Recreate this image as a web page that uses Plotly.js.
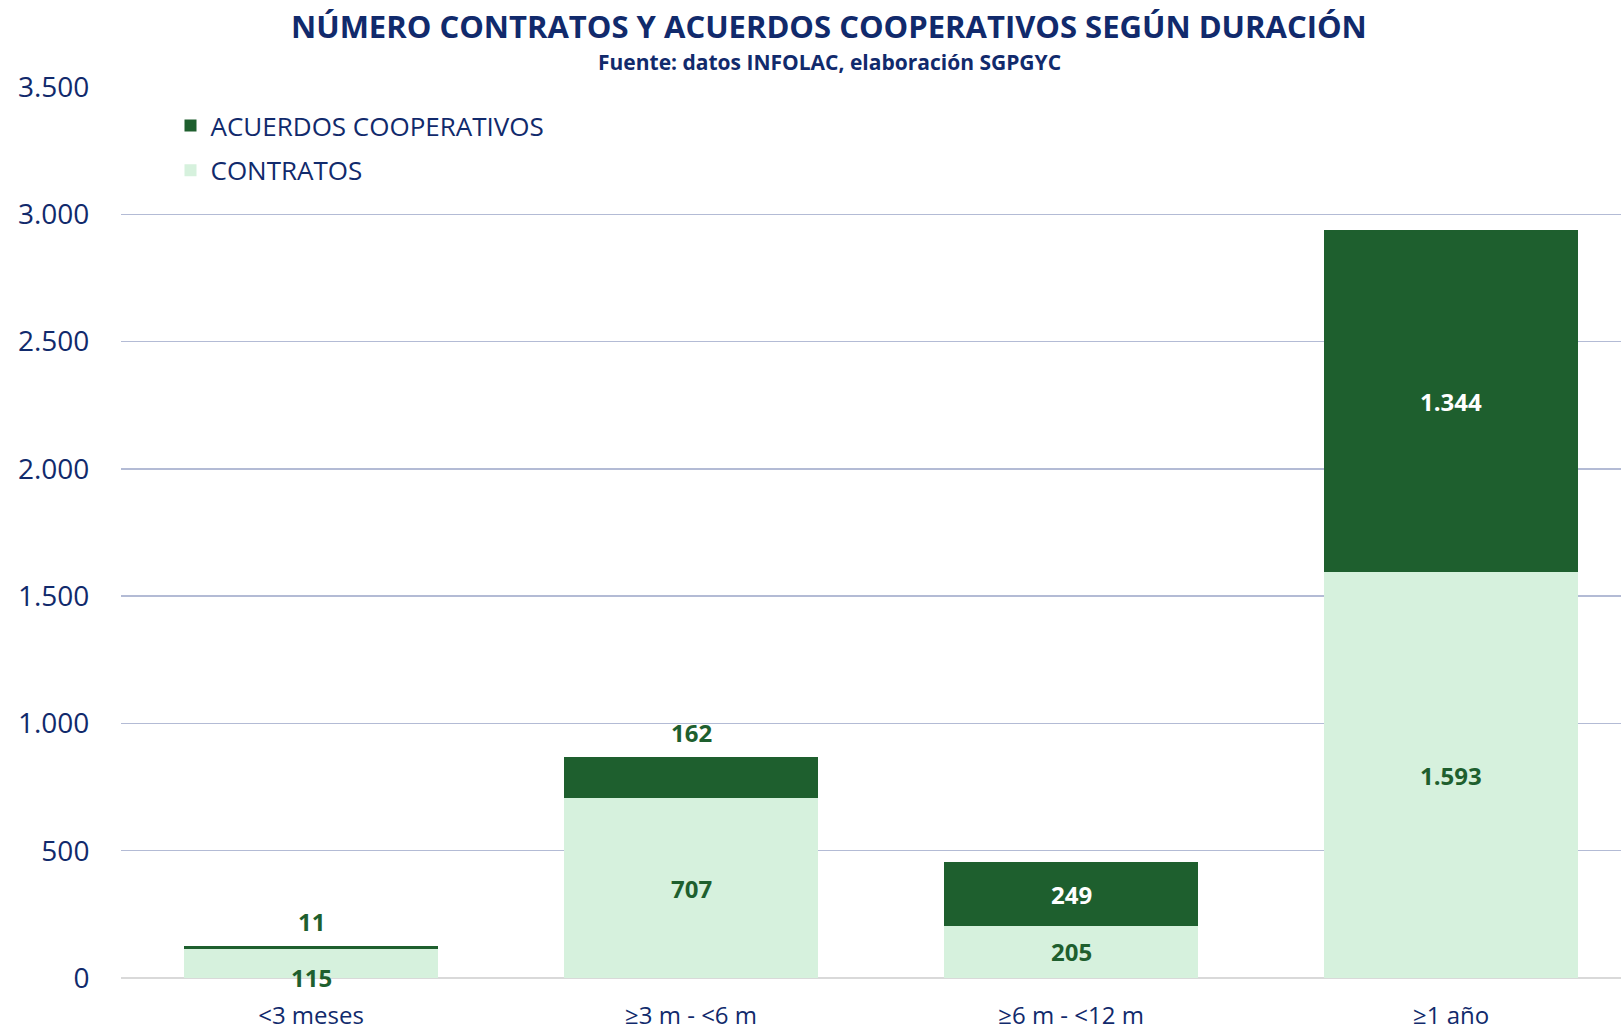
<!DOCTYPE html>
<html>
<head>
<meta charset="utf-8">
<script src="https://cdn.plot.ly/plotly-3.0.1.min.js"></script>
<style>
  html, body { margin:0; padding:0; background:#fff; }
  #chart { width:1621px; height:1033px; }
</style>
</head>
<body>
<div id="chart"></div>
<script>
// ============ DATA ============
const CATEGORIES = ['<3 meses', '≥3 m - <6 m', '≥6 m - <12 m', '≥1 año'];
const CONTRATOS = [115, 707, 205, 1593];
const ACUERDOS = [11, 162, 249, 1344];
const Y_TICKS = [0, 500, 1000, 1500, 2000, 2500, 3000, 3500];

const NAVY = '#112a6c';
const DARK_GREEN = '#1e5f2e';
const LIGHT_GREEN = '#d6f1dd';
const FONT = '"Open Sans", "Noto Sans", sans-serif';

function fmt(v){
  return v.toLocaleString('de-DE');
}

// ============ LABELS ============
const annotations = [];
CATEGORIES.forEach((c, i) => {
  const low = CONTRATOS[i], high = ACUERDOS[i];
  // contratos label, centred in its segment (tiny segment: pushed down like the original)
  annotations.push({
    x: c, y: low / 2, xref: 'x', yref: 'y', text: fmt(low), showarrow: false,
    yshift: low < 150 ? -14 : 0,
    font: { family: FONT, size: 24, color: DARK_GREEN, weight: 700 }
  });
  // acuerdos label: inside when the segment is tall enough, above the bar otherwise
  const inside = high >= 200;
  annotations.push({
    x: c, y: inside ? low + high / 2 : low + high, xref: 'x', yref: 'y',
    text: fmt(high), showarrow: false,
    yanchor: inside ? 'middle' : 'bottom', yshift: inside ? 0 : 6,
    font: { family: FONT, size: 24, color: inside ? '#ffffff' : DARK_GREEN, weight: 700 }
  });
});

// titles
annotations.push({
  xref: 'paper', yref: 'paper', x: 0.472, y: 1, yshift: 61, xanchor: 'center', yanchor: 'middle',
  text: '<b>NÚMERO CONTRATOS Y ACUERDOS COOPERATIVOS SEGÚN DURACIÓN</b>', showarrow: false,
  font: { family: FONT, size: 31, color: NAVY }
});
annotations.push({
  xref: 'paper', yref: 'paper', x: 0.472, y: 1, yshift: 25, xanchor: 'center', yanchor: 'middle',
  text: '<b>Fuente: datos INFOLAC, elaboración SGPGYC</b>', showarrow: false,
  font: { family: FONT, size: 21, color: NAVY }
});

// ============ TRACES ============
const traces = [
  { x: CATEGORIES, y: CONTRATOS, type: 'bar', name: 'CONTRATOS', legendgroup: 'c', legendrank: 2,
    marker: { color: LIGHT_GREEN }, hoverinfo: 'skip' },
  { x: CATEGORIES, y: ACUERDOS, type: 'bar', name: 'ACUERDOS COOPERATIVOS', legendgroup: 'a', legendrank: 1,
    marker: { color: DARK_GREEN }, hoverinfo: 'skip' }
];

const layout = {
  width: 1621, height: 1033,
  margin: { l: 121, r: 0, t: 87, b: 55 },
  paper_bgcolor: '#fff', plot_bgcolor: '#fff',
  barmode: 'stack', bargap: 0.33,
  separators: ',.',
  showlegend: true,
  legend: {
    x: 0.033, y: 0.983, xanchor: 'left', yanchor: 'top',
    traceorder: 'grouped', tracegroupgap: 8,
    font: { family: FONT, size: 26, color: NAVY },
    bgcolor: 'rgba(0,0,0,0)'
  },
  xaxis: {
    type: 'category', range: [-0.5, 3.447],
    ticks: 'outside', ticklen: 16, tickcolor: 'rgba(0,0,0,0)',
    tickfont: { family: FONT, size: 24, color: NAVY },
    showgrid: false, zeroline: false, showline: false
  },
  yaxis: {
    range: [0, 3500], tickvals: Y_TICKS, tickformat: ',d',
    ticks: 'outside', ticklen: 25, tickcolor: 'rgba(0,0,0,0)',
    tickfont: { family: FONT, size: 28, color: NAVY },
    gridcolor: '#b3bbd5', gridwidth: 1.3,
    zeroline: true, zerolinecolor: '#d9d9d9', zerolinewidth: 2,
    showline: false
  },
  annotations: annotations
};

Plotly.newPlot('chart', traces, layout, { displayModeBar: false, staticPlot: true });
</script>
</body>
</html>
